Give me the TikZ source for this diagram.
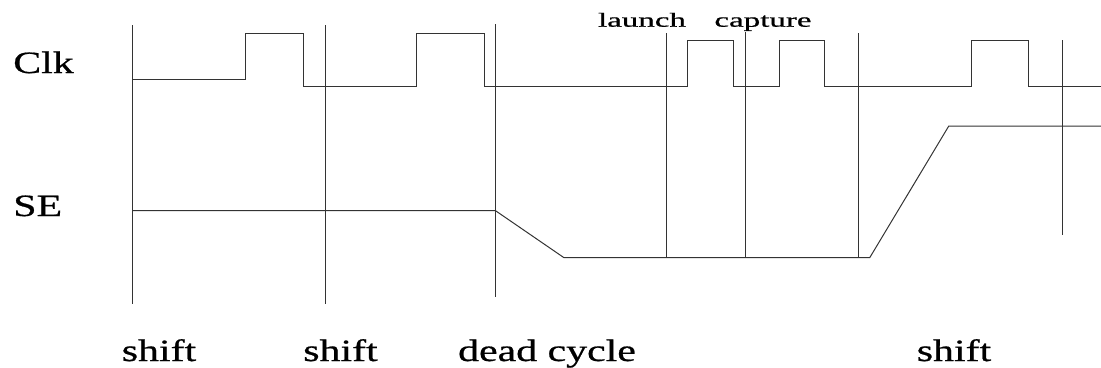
\documentclass[tikz,border=0pt]{standalone}
\usepackage{fontspec}
\setmainfont{Liberation Serif}[FakeBold=0.6]
\tikzset{
	sig/.style={line width=1pt, draw=black!80},
	big/.style={anchor=base, font=\fontsize{31}{31}\selectfont, xscale=1.35, transform shape, inner sep=0pt},
	small/.style={anchor=base, font=\fontsize{20}{20}\selectfont, xscale=1.65, transform shape, inner sep=0pt}
}
\begin{document}
\begin{tikzpicture}[x=1pt, y=-1pt]
			\useasboundingbox (0,0) rectangle (1101,367);
			\node (clk) at (43.5,73) [big] {Clk};
			\node (se) at (37.7,216) [big] {SE};
			\node (launch) at (642,26.7) [small] {launch};
			\node (capture) at (763,26.7) [small] {capture};
			\node (shiftA) at (159,361) [big] {shift};
			\node (shiftB) at (340.5,361) [big] {shift};
			\node (dead) at (547,361) [big] {dead cycle};
			\node (shiftC) at (954,361) [big] {shift};
			% cycle boundaries
			\foreach \x/\top/\bot in {132.5/25/304, 325.5/25/304, 495.5/24/297, 666/33/258, 745.5/32/258, 858.5/33/258, 1062/40/235}
				\draw[sig] (\x,\top) -- (\x,\bot);
			% clock
			\draw[sig] (132.5,79) -- (245.5,79) -- (245.5,33) -- (303.7,33) -- (303.7,86)
				-- (416.3,86) -- (416.3,33) -- (484.4,33) -- (484.4,86)
				-- (687.7,86) -- (687.7,40) -- (733.8,40) -- (733.8,86)
				-- (779,86) -- (779,40) -- (824.8,40) -- (824.8,86)
				-- (971.6,86) -- (971.6,40) -- (1028.6,40) -- (1028.6,86) -- (1101,86);
			% scan enable
			\draw[sig] (132.5,210.7) -- (495.5,210.7) -- (564,257.7) -- (869.7,257.7) -- (948.8,126) -- (1101,126);
		\end{tikzpicture}
\end{document}
